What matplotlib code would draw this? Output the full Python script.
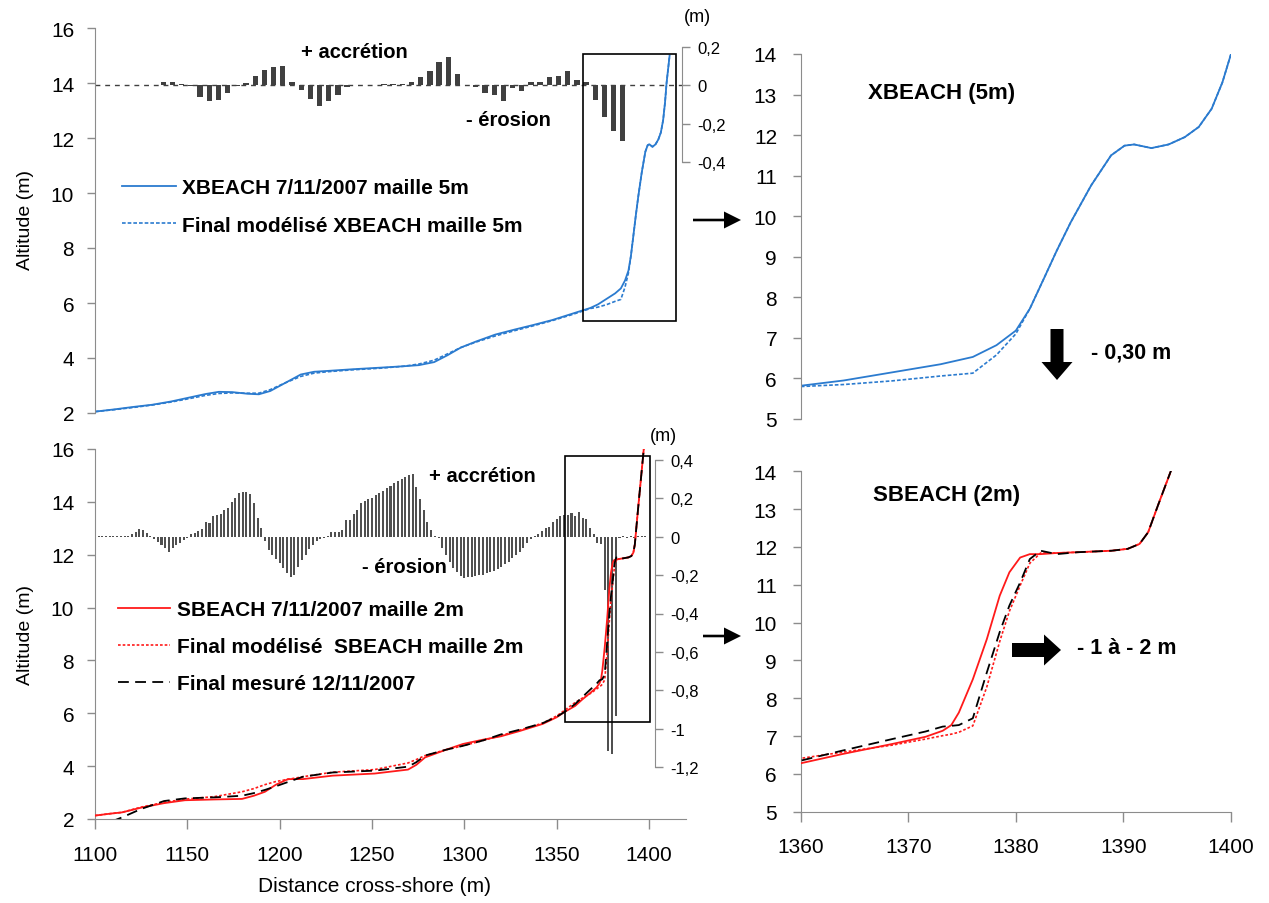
import numpy as np
import matplotlib
matplotlib.use("Agg")
import matplotlib.pyplot as plt
from matplotlib.patches import Rectangle, FancyArrow
from matplotlib.transforms import Affine2D
from matplotlib.ticker import FuncFormatter

# ---------------- data ----------------
# XBEACH (mesh 5 m) profiles
XB_X = [1100, 1110, 1120, 1130, 1140, 1150, 1158, 1165, 1172, 1180, 1186, 1192,
        1200, 1208, 1215, 1222, 1235, 1250, 1262, 1270, 1278, 1285, 1292, 1300,
        1310, 1320, 1330, 1340, 1350, 1360, 1364, 1368.5, 1373, 1376, 1378.2, 1380,
        1381.3, 1382.6, 1383.8, 1385.1, 1387, 1388.85, 1390.1, 1391, 1392.6, 1394.2,
        1395.7, 1397, 1398.2, 1399.2, 1400.0, 1401.6]
XB_INIT = [2.05, 2.13, 2.22, 2.3, 2.42, 2.57, 2.69, 2.77, 2.76, 2.7, 2.68, 2.8,
           3.1, 3.4, 3.5, 3.53, 3.59, 3.65, 3.7, 3.74, 3.85, 4.1, 4.38, 4.6,
           4.85, 5.03, 5.2, 5.38, 5.6, 5.82, 5.95, 6.15, 6.35, 6.53, 6.82, 7.18,
           7.72, 8.46, 9.15, 9.85, 10.76, 11.5, 11.74, 11.77, 11.68, 11.77,
           11.95, 12.2, 12.65, 13.3, 14.0, 15.0]
XB_FINAL = [2.05, 2.12, 2.2, 2.29, 2.4, 2.53, 2.64, 2.71, 2.73, 2.72, 2.72, 2.85,
            3.1, 3.33, 3.45, 3.5, 3.57, 3.63, 3.7, 3.78, 3.92, 4.15, 4.38, 4.58,
            4.8, 4.99, 5.17, 5.36, 5.57, 5.8, 5.85, 5.94, 6.06, 6.13, 6.58, 7.1,
            7.72, 8.46, 9.15, 9.85, 10.76, 11.5, 11.74, 11.77, 11.68, 11.77,
            11.95, 12.2, 12.65, 13.3, 14.0, 15.0]

# XBEACH bed-level change (m), one bar per 5 m node
XB_BAR_X = [1100, 1105, 1110, 1115, 1120, 1125, 1130, 1135, 1140, 1145, 1150, 1155,
            1160, 1165, 1170, 1175, 1180, 1185, 1190, 1195, 1200, 1205, 1210, 1215,
            1220, 1225, 1230, 1235, 1240, 1245, 1250, 1255, 1260, 1265, 1270, 1275,
            1280, 1285, 1290, 1295, 1300, 1305, 1310, 1315, 1320, 1325, 1330, 1335,
            1340, 1345, 1350, 1355, 1360, 1365, 1370, 1375, 1380, 1385, 1390, 1395,
            1400, 1405, 1410, 1415]
XB_DIFF = [0, 0, 0, 0, 0, 0, 0, 0.02, 0.02, 0.005, -0.005, -0.06,
           -0.08, -0.077, -0.04, -0.005, 0.01, 0.05, 0.08, 0.095, 0.10, 0.02, -0.025, -0.073,
           -0.11, -0.08, -0.05, -0.01, 0, 0, 0, 0.005, 0.005, 0.005, 0.02, 0.045,
           0.075, 0.12, 0.15, 0.06, 0, -0.01, -0.04, -0.05, -0.08, -0.015, -0.03, 0.02,
           0.015, 0.045, 0.05, 0.075, 0.03, 0.015, -0.075, -0.165, -0.24, -0.29, 0, 0,
           0, 0, 0, 0]

# SBEACH (mesh 2 m) profiles and measured profile
SB_X = [1100, 1108, 1114.6, 1125, 1137.4, 1148.7, 1165, 1179.6, 1186, 1192, 1198,
        1204.5, 1212.6, 1228.6, 1251.4, 1269.5, 1274, 1278.7, 1290, 1299.3, 1310,
        1319.8, 1330, 1342.5, 1350, 1354, 1360, 1363.8, 1368.5, 1371.6, 1373.2, 1374,
        1374.7, 1376, 1377.3, 1378.5, 1379.4, 1380.4, 1381.3, 1382.3, 1383.8, 1385.7,
        1388.9, 1390.4, 1391.5, 1392.3, 1393.2, 1394.4, 1395.5, 1397, 1398.5]
SB_INIT = [2.13, 2.2, 2.25, 2.43, 2.6, 2.71, 2.74, 2.76, 2.88, 3.03, 3.3,
           3.51, 3.51, 3.64, 3.72, 3.87, 4.05, 4.33, 4.62, 4.84, 5.0,
           5.13, 5.33, 5.6, 5.85, 6.04, 6.28, 6.52, 6.79, 6.98, 7.14, 7.29,
           7.62, 8.5, 9.56, 10.71, 11.33, 11.72, 11.81, 11.81, 11.84, 11.86,
           11.9, 11.95, 12.08, 12.39, 13.09, 14.0, 14.8, 15.9, 17.0]
SB_FINAL = [2.13, 2.2, 2.25, 2.45, 2.63, 2.75, 2.85, 3.03, 3.15, 3.3, 3.42,
            3.5, 3.6, 3.77, 3.87, 4.12, 4.25, 4.4, 4.62, 4.77, 4.97,
            5.16, 5.36, 5.63, 5.9, 6.1, 6.41, 6.57, 6.76, 6.92, 7.01, 7.05,
            7.1, 7.27, 8.3, 9.5, 10.3, 10.98, 11.57, 11.84, 11.84, 11.86,
            11.9, 11.95, 12.08, 12.39, 13.09, 14.0, 14.8, 15.9, 17.0]
MEASURED = [1.7, 1.88, 2.06, 2.38, 2.68, 2.78, 2.82, 2.88, 2.98, 3.1, 3.24,
            3.4, 3.6, 3.76, 3.83, 3.98, 4.15, 4.4, 4.62, 4.77, 4.97,
            5.2, 5.38, 5.63, 5.87, 6.04, 6.35, 6.61, 6.92, 7.12, 7.25, 7.27,
            7.29, 7.47, 8.68, 9.75, 10.45, 11.06, 11.68, 11.9, 11.81, 11.86,
            11.9, 11.95, 12.08, 12.39, 13.09, 14.0, 14.8, 15.9, 17.0]

# SBEACH bed-level change (m), one bar per 2 m node from 1102 to 1398
SB_BAR_X = list(range(1102, 1400, 2))
SB_DIFF = [0.003, 0.003, 0.002, 0.003, 0.002, 0.003, 0.004, 0.005,
           0.005, 0.012, 0.026, 0.04, 0.035, 0.02, 0.005,
           -0.01, -0.026, -0.043, -0.06, -0.082, -0.06, -0.043, -0.03, -0.017, -0.009,
           0.012, 0.017, 0.03, 0.04, 0.078, 0.073, 0.108, 0.113, 0.118, 0.139, 0.148,
           0.183, 0.2, 0.226, 0.235, 0.235, 0.221, 0.174, 0.099, 0.043,
           -0.023, -0.07, -0.096, -0.118, -0.139, -0.165, -0.191, -0.209, -0.2, -0.157,
           -0.122, -0.096, -0.066, -0.043, -0.023, -0.012, -0.005,
           0.005, 0.026, 0.026, 0.026, 0.035, 0.087, 0.087, 0.117, 0.139, 0.174, 0.186,
           0.195, 0.203, 0.217, 0.23, 0.238, 0.252, 0.266, 0.278, 0.29, 0.3, 0.313,
           0.322, 0.325, 0.26, 0.197, 0.139, 0.078, 0.035, 0.005,
           -0.009, -0.061, -0.096, -0.13, -0.162, -0.186, -0.205, -0.214, -0.212,
           -0.209, -0.205, -0.2, -0.197, -0.191, -0.186, -0.179, -0.169, -0.157,
           -0.144, -0.13, -0.113, -0.096, -0.078, -0.057, -0.035, -0.012,
           0.005, 0.012, 0.03, 0.043, 0.052, 0.075, 0.092, 0.108, 0.113, 0.113,
           0.122, 0.108, 0.13, 0.096, 0.092, 0.043, 0.012,
           -0.035, -0.04, -0.28, -1.117, -1.134, -0.933, -0.005, 0.003, -0.004,
           0.003, -0.004, 0.002, 0.003, 0.002]
assert len(SB_BAR_X) == len(SB_DIFF)

LEFT_YTICKS = [2, 4, 6, 8, 10, 12, 14, 16]
RIGHT_YTICKS = [5, 6, 7, 8, 9, 10, 11, 12, 13, 14]
BOTTOM_XTICKS = [1100, 1150, 1200, 1250, 1300, 1350, 1400]
ZOOM_XTICKS = [1360, 1370, 1380, 1390, 1400]
XB_BAR_TICKS = [-0.4, -0.2, 0, 0.2]
SB_BAR_TICKS = [-1.2, -1.0, -0.8, -0.6, -0.4, -0.2, 0, 0.2, 0.4]

# ---------------- style ----------------
W, H = 1269, 904
BLUE = "#2B7BCF"
RED = "#FF1A1A"
GREY = "#8C8C8C"
BARC = "#404040"
plt.rcParams["font.family"] = ["Liberation Sans", "DejaVu Sans"]

fig = plt.figure(figsize=(W / 100, H / 100), dpi=100)
PIX = Affine2D().scale(1.0 / W, -1.0 / H).translate(0, 1) + fig.transFigure


def rect(x0, y0, x1, y1):
    return [x0 / W, 1 - y1 / H, (x1 - x0) / W, (y1 - y0) / H]


def comma(v, pos):
    if abs(v) < 1e-9:
        return "0"
    s = ("%.1f" % v).rstrip("0").rstrip(".")
    return s.replace(".", ",")


def style_left(ax, ticks, pad):
    for s in ["top", "right", "bottom"]:
        ax.spines[s].set_visible(False)
    ax.spines["left"].set_color(GREY)
    ax.set_yticks(ticks)
    ax.tick_params(axis="y", direction="out", length=6, width=1, color=GREY,
                   labelsize=15, pad=pad)
    ax.tick_params(axis="x", bottom=False, labelbottom=False)


def style_bars(ax, ticks, xpos):
    ax.patch.set_visible(False)
    for s in ["top", "left", "bottom"]:
        ax.spines[s].set_visible(False)
    ax.spines["right"].set_color(GREY)
    ax.spines["right"].set_position(("axes", xpos))
    ax.spines["right"].set_bounds(ticks[0], ticks[-1])
    ax.yaxis.tick_right()
    ax.set_yticks(ticks)
    ax.yaxis.set_major_formatter(FuncFormatter(comma))
    ax.tick_params(axis="y", direction="out", length=6, width=1, color=GREY,
                   labelsize=12, pad=5)
    ax.tick_params(axis="x", bottom=False, labelbottom=False)


# ---------- top-left: bars (behind) ----------
ax_tb = fig.add_axes(rect(95, 48, 682, 163))
ax_tb.bar(XB_BAR_X, XB_DIFF, width=2.9, color=BARC, zorder=2)
ax_tb.axhline(0, color=BARC, lw=1.0, dashes=(3.5, 3.5), zorder=1)
ax_tb.set_xlim(1097.8, 1417.2)
ax_tb.set_ylim(-0.4, 0.2)
style_bars(ax_tb, XB_BAR_TICKS, 1.0)

# ---------- top-left: profiles ----------
ax_tl = fig.add_axes(rect(95, 29, 682, 414))
ax_tl.patch.set_visible(False)
ax_tl.plot(XB_X, XB_INIT, color=BLUE, lw=1.3, label="XBEACH 7/11/2007 maille 5m")
ax_tl.plot(XB_X, XB_FINAL, color=BLUE, lw=1.2, dashes=(2.2, 1.2),
           label="Final modélisé XBEACH maille 5m")
ax_tl.set_xlim(1100, 1408.1)
ax_tl.set_ylim(2, 16)
style_left(ax_tl, LEFT_YTICKS, 9)

# ---------- bottom-left: bars ----------
ax_bb = fig.add_axes(rect(95, 461, 686, 768))
ax_bb.bar(SB_BAR_X, SB_DIFF, width=1.1, color="#505050", zorder=2)
ax_bb.set_xlim(1100, 1420)
ax_bb.set_ylim(-1.2, 0.4)
style_bars(ax_bb, SB_BAR_TICKS, 0.9475)

# ---------- bottom-left: profiles ----------
ax_bl = fig.add_axes(rect(95, 450, 686, 820))
ax_bl.patch.set_visible(False)
ax_bl.plot(SB_X, SB_INIT, color=RED, lw=1.3, label="SBEACH 7/11/2007 maille 2m", zorder=3)
ax_bl.plot(SB_X, SB_FINAL, color=RED, lw=1.2, dashes=(1.6, 1.2),
           label="Final modélisé  SBEACH maille 2m", zorder=3)
ax_bl.plot(SB_X, MEASURED, color="black", lw=1.3, dashes=(6, 3.5),
           label="Final mesuré 12/11/2007", zorder=4)
ax_bl.set_xlim(1100, 1420)
ax_bl.set_ylim(2, 16)
style_left(ax_bl, LEFT_YTICKS, 9)
ax_bl.spines["bottom"].set_visible(True)
ax_bl.spines["bottom"].set_color(GREY)
ax_bl.set_xticks(BOTTOM_XTICKS)
ax_bl.tick_params(axis="x", bottom=True, labelbottom=True, direction="out", length=7,
                  width=1, color=GREY, labelsize=15, pad=12)

# ---------- top-right zoom (XBEACH) ----------
ax_tr = fig.add_axes(rect(800.7, 55, 1231, 420))
ax_tr.plot(XB_X, XB_INIT, color=BLUE, lw=1.3)
ax_tr.plot(XB_X, XB_FINAL, color=BLUE, lw=1.2, dashes=(2.2, 1.2))
ax_tr.set_xlim(1360, 1400)
ax_tr.set_ylim(5, 14)
style_left(ax_tr, RIGHT_YTICKS, 11)

# ---------- bottom-right zoom (SBEACH) ----------
ax_br = fig.add_axes(rect(800.7, 472.3, 1231, 812.7))
ax_br.plot(SB_X, SB_INIT, color=RED, lw=1.3, zorder=3)
ax_br.plot(SB_X, SB_FINAL, color=RED, lw=1.2, dashes=(1.6, 1.2), zorder=3)
ax_br.plot(SB_X, MEASURED, color="black", lw=1.3, dashes=(6, 3.5), zorder=4)
ax_br.set_xlim(1360, 1400)
ax_br.set_ylim(5, 14)
style_left(ax_br, RIGHT_YTICKS, 11)
ax_br.spines["bottom"].set_visible(True)
ax_br.spines["bottom"].set_color(GREY)
ax_br.set_xticks(ZOOM_XTICKS)
ax_br.tick_params(axis="x", bottom=True, labelbottom=True, direction="out", length=7,
                  width=1, color=GREY, labelsize=15, pad=11)

# ---------- legends ----------
LEGFONT = dict(family=["Liberation Sans"], weight="bold", size=15)
h1, l1 = ax_tl.get_legend_handles_labels()
fig.legend(h1, l1, loc="upper left", bbox_to_anchor=(122 / W, 1 - 179 / H),
           frameon=False, prop=LEGFONT, handlelength=2.6, handletextpad=0.3,
           labelspacing=0.9, borderpad=0, borderaxespad=0)
h2, l2 = ax_bl.get_legend_handles_labels()
fig.legend(h2, l2, loc="upper left",
           bbox_to_anchor=(118 / W, 1 - 601 / H), frameon=False, prop=LEGFONT,
           handlelength=2.5, handletextpad=0.35, labelspacing=0.87, borderpad=0,
           borderaxespad=0)

# ---------- texts ----------
def ftext(x, y, s, **kw):
    fig.text(x / W, 1 - y / H, s, **kw)

ftext(25, 220, "Altitude (m)", rotation=90, ha="center", va="center", fontsize=14)
ftext(25, 635, "Altitude (m)", rotation=90, ha="center", va="center", fontsize=14)
ftext(375, 887, "Distance cross-shore (m)", ha="center", va="center", fontsize=15)
ftext(697, 18, "(m)", ha="center", va="center", fontsize=13)
ftext(663, 437, "(m)", ha="center", va="center", fontsize=13)
ftext(354, 52, "+ accrétion", ha="center", va="center", fontsize=14.5, weight="bold")
ftext(508, 120, "- érosion", ha="center", va="center", fontsize=14.5, weight="bold")
ftext(482, 477, "+ accrétion", ha="center", va="center", fontsize=14.5, weight="bold")
ftext(404, 568, "- érosion", ha="center", va="center", fontsize=14.5, weight="bold")
ftext(868, 93, "XBEACH (5m)", ha="left", va="center", fontsize=16, weight="bold")
ftext(873, 495, "SBEACH (2m)", ha="left", va="center", fontsize=16, weight="bold")
ftext(1091, 353, "- 0,30 m", ha="left", va="center", fontsize=15.5, weight="bold")
ftext(1077, 649, "- 1 à - 2 m", ha="left", va="center", fontsize=15.5, weight="bold")

# ---------- boxes and arrows ----------
for (x0, y0, x1, y1) in [(583, 55, 676, 322), (565, 457, 650, 723)]:
    fig.add_artist(Rectangle((x0, y0), x1 - x0, y1 - y0, transform=PIX, fill=False,
                             ec="black", lw=1.2))
for (x0, x1, y) in [(693, 741, 221), (703, 741, 637)]:
    fig.add_artist(FancyArrow(x0, y, x1 - x0, 0, width=2.6, head_width=17,
                              head_length=17, length_includes_head=True,
                              transform=PIX, color="black", lw=0))
fig.add_artist(FancyArrow(1057, 330, 0, 51, width=13, head_width=31, head_length=18,
                          length_includes_head=True, transform=PIX, color="black", lw=0))
fig.add_artist(FancyArrow(1012, 651, 49, 0, width=14, head_width=31, head_length=17,
                          length_includes_head=True, transform=PIX, color="black", lw=0))

fig.savefig("out.png", dpi=100)
